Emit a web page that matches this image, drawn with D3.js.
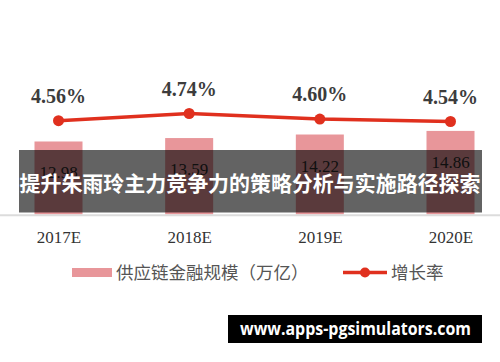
<!DOCTYPE html>
<html>
<head>
<meta charset="utf-8">
<script src="https://cdn.jsdelivr.net/npm/d3@7"></script>
<style>
  html, body { margin: 0; padding: 0; background: #fff; }
  svg { display: block; }
</style>
</head>
<body>
<script>
var width = 500;
var height = 362;

// data
var years = ['2017E', '2018E', '2019E', '2020E'];
var scale = [12.98, 13.59, 14.22, 14.86];
var growth = [4.56, 4.74, 4.60, 4.54];
var legendNames = ['供应链金融规模（万亿）', '增长率'];
var bannerText = '提升朱雨玲主力竞争力的策略分析与实施路径探索';
var siteText = 'www.apps-pgsimulators.com';

var barColor = '#e8969a';
var lineColor = '#e0301e';

var x = d3.scalePoint().domain(years).range([58.5, 450.5]);
var yBar = d3.scaleLinear().domain([0, 32]).range([214.5, 34.5]);
var yLine = d3.scaleLinear().domain([4, 5]).range([143.1, 103.1]);
var barWidth = 48;

var svg = d3.select('body').append('svg').attr('width', width).attr('height', height).attr('viewBox', [0, 0, width, height].join(' '));

// bars
svg.selectAll('.bar').data(years).enter().append('rect').attr('class', 'bar')
  .attr('x', function (d) { return x(d) - barWidth / 2; })
  .attr('y', function (d, i) { return yBar(scale[i]); })
  .attr('width', barWidth)
  .attr('height', function (d, i) { return yBar(0) - yBar(scale[i]); })
  .attr('fill', barColor);

svg.selectAll('.bar-label').data(years).enter().append('text').attr('class', 'bar-label')
  .attr('x', function (d) { return x(d); })
  .attr('y', function (d, i) { return yBar(scale[i]) + 37; })
  .attr('text-anchor', 'middle')
  .style('font', '17px "Liberation Serif", serif')
  .attr('fill', '#2a2a2a')
  .text(function (d, i) { return scale[i].toFixed(2); });

// baseline
svg.append('line').attr('x1', 0).attr('x2', width).attr('y1', 215.3).attr('y2', 215.3)
  .attr('stroke', '#dcdcdc').attr('stroke-width', 2);

// axis labels
var axis = d3.axisBottom(x).tickSize(0).tickPadding(0);
var gx = svg.append('g').attr('transform', 'translate(0,230)').call(axis);
gx.select('.domain').remove();
gx.selectAll('text').attr('dy', '0.75em').attr('fill', '#333')
  .style('font', '17px "Liberation Serif", serif');

// growth line
var line = d3.line().x(function (d, i) { return x(years[i]); }).y(function (d) { return yLine(d); });
svg.append('path').datum(growth).attr('d', line).attr('fill', 'none')
  .attr('stroke', lineColor).attr('stroke-width', 3.5);

svg.selectAll('.dot').data(growth).enter().append('circle').attr('class', 'dot')
  .attr('cx', function (d, i) { return x(years[i]); })
  .attr('cy', yLine)
  .attr('r', 5.5)
  .attr('fill', lineColor);

svg.selectAll('.rate').data(growth).enter().append('text').attr('class', 'rate')
  .attr('x', function (d, i) { return x(years[i]); })
  .attr('y', function (d) { return yLine(d) - 18; })
  .attr('text-anchor', 'middle')
  .style('font', 'bold 20px "Liberation Serif", serif')
  .attr('fill', '#3c3c3c')
  .text(function (d) { return d.toFixed(2) + '%'; });

// legend
var legend = svg.append('g').style('font', '17.5px "Noto Sans CJK SC", sans-serif').attr('fill', '#555');
legend.append('rect').attr('x', 72).attr('y', 268).attr('width', 40).attr('height', 9).attr('fill', barColor);
legend.append('text').attr('x', 116).attr('y', 279).text(legendNames[0]);
legend.append('line').attr('x1', 343).attr('x2', 387).attr('y1', 272.5).attr('y2', 272.5)
  .attr('stroke', lineColor).attr('stroke-width', 3.5);
legend.append('circle').attr('cx', 365).attr('cy', 272.5).attr('r', 5).attr('fill', lineColor);
legend.append('text').attr('x', 391).attr('y', 279).text(legendNames[1]);

// title banner over the chart
svg.append('rect').attr('x', 19).attr('y', 150).attr('width', 463).attr('height', 62.5)
  .attr('fill', '#000').attr('fill-opacity', 0.61);
svg.append('text').attr('x', 250).attr('y', 190.5).attr('text-anchor', 'middle')
  .attr('textLength', 461).attr('lengthAdjust', 'spacingAndGlyphs')
  .style('font', 'bold 21px "Noto Sans CJK SC", sans-serif').attr('fill', '#fff')
  .text(bannerText);

// site box
svg.append('rect').attr('x', 228).attr('y', 315).attr('width', 254).attr('height', 28).attr('fill', '#000');
svg.append('text').attr('x', 355.5).attr('y', 335).attr('text-anchor', 'middle')
  .attr('textLength', 231).attr('lengthAdjust', 'spacingAndGlyphs')
  .style('font', 'bold 17px "Open Sans", sans-serif').attr('fill', '#fff')
  .text(siteText);
</script>
</body>
</html>
